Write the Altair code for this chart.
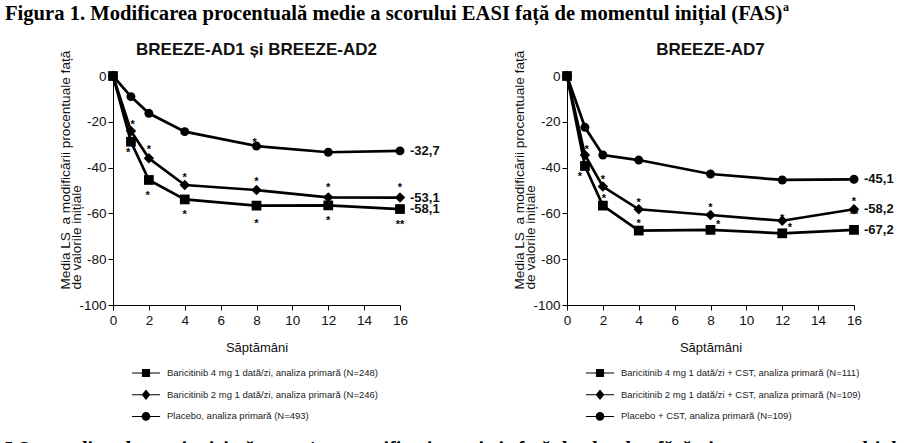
import altair as alt
import pandas as pd

# ---------------- data ----------------
weeks = [0, 1, 2, 4, 8, 12, 16]

# BREEZE-AD1 si BREEZE-AD2
ad12_names = [
    "Baricitinib 4 mg 1 dată/zi, analiza primară (N=248)",
    "Baricitinib 2 mg 1 dată/zi, analiza primară (N=246)",
    "Placebo, analiza primară (N=493)",
]
ad12_4mg = [0, -28.7, -45.4, -53.9, -56.6, -56.5, -58.1]
ad12_2mg = [0, -24.0, -35.9, -47.6, -49.8, -53.0, -53.1]
ad12_pbo = [0, -9.0, -16.3, -24.3, -30.6, -33.3, -32.7]
ad12_end_labels = ["-58,1", "-53,1", "-32,7"]
ad12_star_weeks = [1.1, 0.85, 2.0, 1.93, 4, 4, 7.9, 8, 8, 12, 12, 16, 16]
ad12_star_vals = [-20, -32.3, -30.9, -51, -43, -59.3, -28, -45, -63, -47.6, -61.7, -47.3, -63.6]
ad12_star_text = ["*", "*", "*", "*", "*", "*", "*", "*", "*", "*", "*", "*", "**"]

# BREEZE-AD7
ad7_names = [
    "Baricitinib 4 mg 1 dată/zi + CST, analiza primară (N=111)",
    "Baricitinib 2 mg 1 dată/zi + CST, analiza primară (N=109)",
    "Placebo + CST, analiza primară (N=109)",
]
ad7_4mg = [0, -39.3, -56.6, -67.5, -67.2, -68.7, -67.2]
ad7_2mg = [0, -34.5, -48.3, -58.2, -60.7, -63.2, -58.2]
ad7_pbo = [0, -22.4, -34.5, -36.7, -42.8, -45.4, -45.1]
ad7_end_labels = ["-67,2", "-58,2", "-45,1"]
ad7_star_weeks = [1.1, 0.72, 2.0, 2.06, 4, 4, 8, 8.43, 12, 12.43, 16, 16]
ad7_star_vals = [-30.9, -42.5, -44, -52.4, -54.1, -63, -56.3, -63.6, -61, -65, -53.4, -59.3]
ad7_star_text = ["*", "*", "*", "*", "*", "*", "*", "*", "*", "*", "*", "**"]

main_title = "Figura 1. Modificarea procentuală medie a scorului EASI față de momentul inițial (FAS)"
main_title_sup = "a"
footnote = ("LS = media celor mai mici pătrate; * = semnificativ statistic față de placebo, "
            "fără ajustare pentru multiplicitate; ** = semnificativ statistic")
y_title = ["Media LS \u00a0a modificării procentuale față", "de valorile inițiale"]
x_title = "Săptămâni"

SANS = "Liberation Sans"
SERIF = "Liberation Serif"

shapes = ["square", "diamond", "circle"]
# legend symbols: thin filled bar (the line) + marker, drawn with fill only
legend_paths = [
    "M-2,-0.07H2V0.07H-2ZM-0.58,-0.58H0.58V0.58H-0.58Z",
    "M-2,-0.07H2V0.07H-2ZM0,-0.75L0.62,0L0,0.75L-0.62,0Z",
    "M-2,-0.07H2V0.07H-2ZM-0.62,0A0.62,0.62,0,1,1,0.62,0A0.62,0.62,0,1,1,-0.62,0Z",
]
marker_sizes = [95, 110, 80]


def panel(title, names, s4, s2, sp, end_labels, sw, sv, st, with_page_text):
    series_vals = [s4, s2, sp]
    rows = []
    for name, vals in zip(names, series_vals):
        for w, v in zip(weeks, vals):
            rows.append({"week": w, "value": v, "series": name})
    df = pd.DataFrame(rows)

    xs = alt.X(
        "week:Q",
        scale=alt.Scale(domain=[0, 16], nice=False, zero=False),
        axis=alt.Axis(
            values=list(range(0, 17, 2)), title=x_title, grid=False,
            labelFont=SANS, labelFontSize=13.5, labelColor="#111", labelPadding=3,
            labelFlush=False, labelOverlap=False,
            tickSize=5, tickColor="black", domainColor="black",
            titleFont=SANS, titleFontSize=13, titleFontWeight="normal",
            titleColor="#111", titlePadding=15,
        ),
    )
    ys = alt.Y(
        "value:Q",
        scale=alt.Scale(domain=[-100, 0], nice=False, zero=False),
        axis=alt.Axis(
            values=list(range(-100, 1, 20)), title=y_title, grid=False,
            labelExpr="'' + datum.value",
            labelFont=SANS, labelFontSize=13.5, labelColor="#111", labelPadding=2,
            labelFlush=False, labelOverlap=False,
            tickSize=5, tickColor="black", domainColor="black",
            titleFont=SANS, titleFontSize=13.6, titleFontWeight="normal",
            titleColor="#111", titleAngle=270, titleAlign="left",
            titleBaseline="top", titleLineHeight=11.5,
            titleX=-55, titleY=213,
        ),
    )

    base = alt.Chart(df)
    layers = [
        base.mark_line(color="black", strokeWidth=2.7).encode(
            x=xs, y=ys, detail="series:N"
        )
    ]
    for i in [2, 1, 0]:
        layers.append(
            base.transform_filter(alt.datum.series == names[i])
            .mark_point(shape=shapes[i], filled=True, color="black",
                        size=marker_sizes[i], opacity=1)
            .encode(x=xs, y=ys)
        )

    # legend layer (no visible data, legend entries from explicit domain)
    leg_df = pd.DataFrame({"series": names, "week": [0] * 3, "value": [0] * 3})
    layers.append(
        alt.Chart(leg_df)
        .transform_filter("false")
        .mark_point(filled=True, color="black", size=196)
        .encode(
            x=xs, y=ys,
            shape=alt.Shape(
                "series:N",
                scale=alt.Scale(domain=names, range=legend_paths),
                legend=alt.Legend(
                    title=None, orient="none", legendX=25, legendY=289,
                    direction="vertical", labelFont=SANS, labelFontSize=9.5,
                    labelColor="#222", labelLimit=600, labelOffset=13,
                    rowPadding=4.7, symbolSize=196, symbolFillColor="black",
                    symbolOpacity=1, padding=0,
                ),
            ),
        )
    )

    # end-value labels
    end_df = pd.DataFrame({
        "week": [16, 16, 16],
        "value": [s4[-1], s2[-1], sp[-1]],
        "label": end_labels,
    })
    layers.append(
        alt.Chart(end_df)
        .mark_text(align="left", baseline="middle", dx=10, font=SANS,
                   fontSize=13, fontWeight="bold", color="#111")
        .encode(x=xs, y=ys, text="label:N")
    )

    # significance asterisks
    star_df = pd.DataFrame({"week": sw, "value": sv, "t": st})
    layers.append(
        alt.Chart(star_df)
        .mark_text(align="center", baseline="alphabetic", dy=6.3, font=SANS,
                   fontSize=11, fontWeight="bold", color="black")
        .encode(x=xs, y=ys, text="t:N")
    )

    # panel title
    layers.append(
        alt.Chart(pd.DataFrame({"t": [title]}))
        .mark_text(align="center", baseline="alphabetic", font=SANS,
                   fontSize=17, fontWeight="bold", color="#111")
        .encode(text="t:N", x=alt.value(143.5), y=alt.value(-21))
    )

    if with_page_text:
        mt_df = pd.DataFrame({"t": [main_title], "s": [main_title_sup], "f": [footnote]})
        layers.append(
            alt.Chart(mt_df)
            .mark_text(align="left", baseline="alphabetic", font=SERIF,
                       fontSize=20.6, fontWeight="bold", color="black")
            .encode(text="t:N", x=alt.value(-108), y=alt.value(-56))
        )
        layers.append(
            alt.Chart(mt_df)
            .mark_text(align="left", baseline="alphabetic", font=SERIF,
                       fontSize=12, fontWeight="bold", color="black")
            .encode(text="s:N", x=alt.value(670), y=alt.value(-65))
        )
        # footnote, cut off by the lower page edge as in the reference
        layers.append(
            alt.Chart(mt_df)
            .mark_text(align="left", baseline="alphabetic", font=SERIF,
                       fontSize=20, fontWeight="bold", color="black",
                       limit=900, ellipsis=" ")
            .encode(text="f:N", x=alt.value(-108), y=alt.value(380))
        )

    return alt.layer(*layers).properties(width=287, height=229)


left = panel("BREEZE-AD1 și BREEZE-AD2", ad12_names, ad12_4mg, ad12_2mg, ad12_pbo,
             ad12_end_labels, ad12_star_weeks, ad12_star_vals, ad12_star_text, True)
right = panel("BREEZE-AD7", ad7_names, ad7_4mg, ad7_2mg, ad7_pbo,
              ad7_end_labels, ad7_star_weeks, ad7_star_vals, ad7_star_text, False)

chart = (
    alt.hconcat(left, right, spacing=167, bounds="flush")
    .resolve_scale(x="independent", y="independent", shape="independent")
    .resolve_legend(shape="independent")
    .properties(padding={"left": 5, "top": 1, "right": 0, "bottom": -13})
    .configure_view(stroke=None)
)

chart.save("out.html", embed_options={"renderer": "svg", "actions": False})
